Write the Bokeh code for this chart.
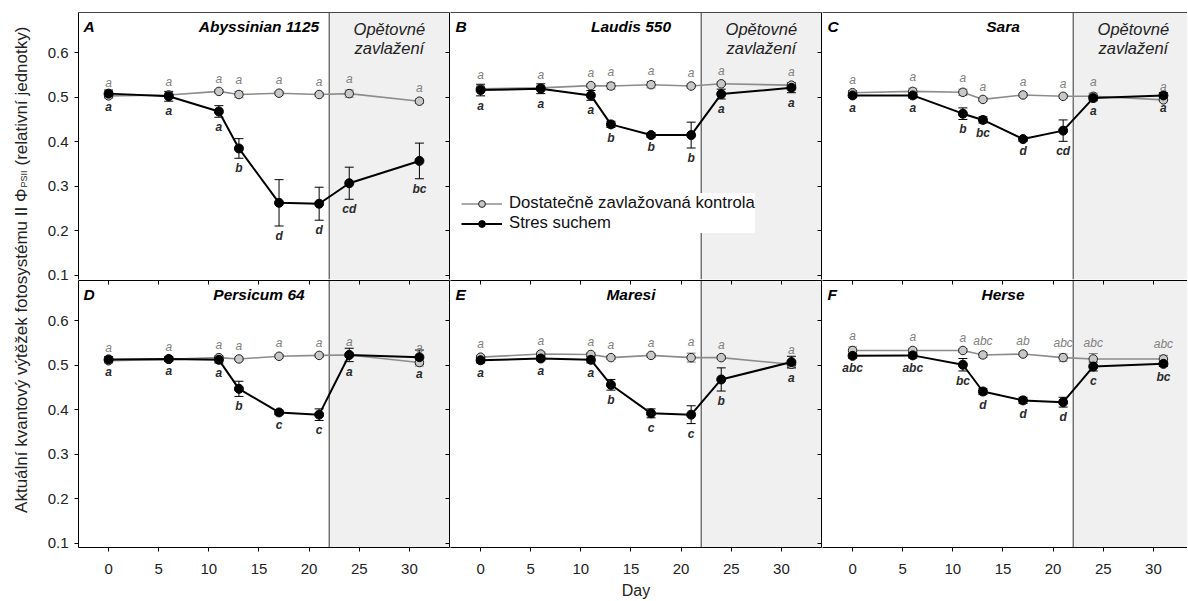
import math
from bokeh.plotting import figure
from bokeh.models import (Range1d, LinearAxis, BoxAnnotation, Span, Whisker, TeeHead,
                          ColumnDataSource, Legend, LegendItem, FixedTicker,
                          CustomJSTickFormatter)
from bokeh.layouts import row, column
from bokeh.embed import file_html
from bokeh.resources import INLINE
from bokeh.core.properties import value

# ---------------- data ----------------
days = [0, 6, 11, 13, 17, 21, 24, 31]
x_ticks = [0, 5, 10, 15, 20, 25, 30]
y_ticks = [0.1, 0.2, 0.3, 0.4, 0.5, 0.6]
rewater_day = 22

panel_letters = ["A", "B", "C", "D", "E", "F"]
cultivars = ["Abyssinian 1125", "Laudis 550", "Sara", "Persicum 64", "Maresi", "Herse"]
legend_labels = ["Dostatečně zavlažovaná kontrola", "Stres suchem"]
rewater_text = ["Opětovné", "zavlažení"]
x_label = "Day"
y_label_parts = ["Aktuální kvantový výtěžek fotosystému II Φ", "PSII", "(relativní jednotky)"]

ctrl_A = [0.503, 0.505, 0.513, 0.506, 0.509, 0.506, 0.508, 0.491]
ctrl_A_err = [0.005, 0.004, 0.004, 0.007, 0.004, 0.004, 0.008, 0.005]
drought_A = [0.508, 0.502, 0.468, 0.385, 0.263, 0.261, 0.307, 0.357]
drought_A_err = [0.008, 0.011, 0.013, 0.022, 0.052, 0.037, 0.036, 0.040]
ctrl_A_let = ["a", "a", "a", "a", "a", "a", "a", "a"]
drought_A_let = ["a", "a", "a", "b", "d", "d", "cd", "bc"]

ctrl_B = [0.519, 0.521, 0.526, 0.525, 0.528, 0.525, 0.530, 0.527]
ctrl_B_err = [0.006, 0.004, 0.004, 0.007, 0.007, 0.004, 0.004, 0.005]
drought_B = [0.516, 0.519, 0.504, 0.439, 0.415, 0.415, 0.507, 0.521]
drought_B_err = [0.013, 0.011, 0.011, 0.007, 0.005, 0.029, 0.011, 0.011]
ctrl_B_let = ["a", "a", "a", "a", "a", "a", "a", "a"]
drought_B_let = ["a", "a", "a", "b", "b", "b", "a", "a"]

ctrl_C = [0.510, 0.513, 0.511, 0.495, 0.505, 0.502, 0.502, 0.494]
ctrl_C_err = [0.005, 0.007, 0.007, 0.004, 0.004, 0.004, 0.007, 0.004]
drought_C = [0.504, 0.504, 0.463, 0.449, 0.406, 0.425, 0.498, 0.504]
drought_C_err = [0.005, 0.006, 0.013, 0.007, 0.005, 0.024, 0.006, 0.006]
ctrl_C_let = ["a", "a", "a", "a", "a", "a", "a", "a"]
drought_C_let = ["a", "a", "b", "bc", "d", "cd", "a", "a"]

ctrl_D = [0.510, 0.513, 0.517, 0.514, 0.520, 0.522, 0.523, 0.506]
ctrl_D_err = [0.005, 0.004, 0.004, 0.004, 0.004, 0.004, 0.004, 0.008]
drought_D = [0.513, 0.514, 0.512, 0.447, 0.394, 0.389, 0.523, 0.518]
drought_D_err = [0.006, 0.005, 0.007, 0.017, 0.005, 0.013, 0.015, 0.016]
ctrl_D_let = ["a", "a", "a", "a", "a", "a", "a", "a"]
drought_D_let = ["a", "a", "a", "b", "c", "c", "a", "a"]

ctrl_E = [0.518, 0.525, 0.524, 0.517, 0.522, 0.517, 0.517, 0.502]
ctrl_E_err = [0.004, 0.004, 0.004, 0.004, 0.004, 0.010, 0.004, 0.008]
drought_E = [0.511, 0.515, 0.512, 0.456, 0.392, 0.389, 0.468, 0.507]
drought_E_err = [0.006, 0.005, 0.007, 0.012, 0.010, 0.020, 0.026, 0.013]
ctrl_E_let = ["a", "a", "a", "a", "a", "a", "a", "a"]
drought_E_let = ["a", "a", "a", "b", "c", "c", "b", "a"]

ctrl_F = [0.533, 0.533, 0.533, 0.523, 0.525, 0.517, 0.514, 0.514]
ctrl_F_err = [0.008, 0.005, 0.004, 0.006, 0.004, 0.008, 0.012, 0.008]
drought_F = [0.521, 0.522, 0.501, 0.441, 0.421, 0.417, 0.497, 0.503]
drought_F_err = [0.005, 0.006, 0.014, 0.007, 0.007, 0.011, 0.010, 0.006]
ctrl_F_let = ["a", "a", "a", "abc", "ab", "abc", "abc", "abc"]
drought_F_let = ["abc", "abc", "bc", "d", "d", "d", "c", "bc"]

panels = [
    (ctrl_A, ctrl_A_err, drought_A, drought_A_err, ctrl_A_let, drought_A_let),
    (ctrl_B, ctrl_B_err, drought_B, drought_B_err, ctrl_B_let, drought_B_let),
    (ctrl_C, ctrl_C_err, drought_C, drought_C_err, ctrl_C_let, drought_C_let),
    (ctrl_D, ctrl_D_err, drought_D, drought_D_err, ctrl_D_let, drought_D_let),
    (ctrl_E, ctrl_E_err, drought_E, drought_E_err, ctrl_E_let, drought_E_let),
    (ctrl_F, ctrl_F_err, drought_F, drought_F_err, ctrl_F_let, drought_F_let),
]

# ---------------- style / layout ----------------
FONT = "Liberation Sans"
CTRL_LINE = "#8c8c8c"
CTRL_FILL = "#c8c8c8"
CTRL_TEXT = "#808080"
DRY_TEXT = "#2a2a2a"
SHADE = "#f0f0f0"
X_START = -3
X_END = 34
FRAME_W = 371
FRAME_W_CLIPPED = 365
X_END_CLIPPED = X_START + (X_END - X_START) * FRAME_W_CLIPPED / FRAME_W
Y_START = 0.091
Y_END = 0.69
FRAME_H = 267
LABEL_W = 34
TOP_BORDER = 12
TOP_ROW_SPILL = 6          # extra canvas below the top row so its last tick label is whole
BOTTOM_BORDER = 53
TOTAL_H = TOP_BORDER + FRAME_H + 1 + FRAME_H + BOTTOM_BORDER

empty_fmt = CustomJSTickFormatter(code="return ''")


def hidden_axis(ticks, tick_in=0, line_color="black"):
    return LinearAxis(ticker=FixedTicker(ticks=ticks), formatter=empty_fmt,
                      major_tick_in=tick_in, major_tick_out=0,
                      minor_tick_in=0, minor_tick_out=0,
                      major_label_text_font_size="0px", major_label_standoff=0,
                      axis_line_color=line_color, major_tick_line_color="black")


def make_panel(i):
    r, c = divmod(i, 3)
    clipped = (c == 2)
    p = figure(frame_width=FRAME_W_CLIPPED if clipped else FRAME_W, frame_height=FRAME_H,
               x_range=Range1d(X_START, X_END_CLIPPED if clipped else X_END),
               y_range=Range1d(Y_START, Y_END),
               x_axis_location=None, y_axis_location=None,
               toolbar_location=None, output_backend="svg",
               min_border_left=78 - LABEL_W if c == 0 else 0,
               min_border_right=0 if clipped else 1,
               min_border_top=TOP_BORDER if r == 0 else 1,
               min_border_bottom=TOP_ROW_SPILL if r == 0 else BOTTOM_BORDER,
               outline_line_color=None, background_fill_color="white",
               border_fill_color="white", border_fill_alpha=1 if r == 0 else 0)
    p.grid.visible = False

    # axes
    if c == 0:
        ax = LinearAxis(ticker=FixedTicker(ticks=y_ticks), major_tick_out=4, major_tick_in=0,
                        minor_tick_in=0, minor_tick_out=0, axis_line_color="black",
                        major_label_text_font=FONT, major_label_text_font_size="15px",
                        major_label_standoff=6, major_label_text_color="#222222")
        p.add_layout(ax, "left")
    if not clipped:
        p.add_layout(hidden_axis(y_ticks, tick_in=4), "right")
    if r == 0:
        p.add_layout(hidden_axis(x_ticks, tick_in=0, line_color="#444444"), "above")
    else:
        p.add_layout(hidden_axis(x_ticks, tick_in=4), "above")
        bx = LinearAxis(ticker=FixedTicker(ticks=x_ticks), major_tick_out=4, major_tick_in=0,
                        minor_tick_in=0, minor_tick_out=0, axis_line_color="black",
                        major_label_text_font=FONT, major_label_text_font_size="15px",
                        major_label_standoff=12, major_label_text_color="#222222")
        if c == 1:
            bx.axis_label = x_label
            bx.axis_label_text_font = FONT
            bx.axis_label_text_font_size = "16px"
            bx.axis_label_text_font_style = "normal"
            bx.axis_label_standoff = 5
            bx.axis_label_text_color = "#222222"
        p.add_layout(bx, "below")

    # rewatering shading
    p.add_layout(BoxAnnotation(left=rewater_day, fill_color=SHADE, fill_alpha=1,
                               line_color=None, level="underlay"))
    p.add_layout(Span(location=rewater_day, dimension="height", line_color="#333333",
                      line_width=1, level="underlay"))

    ctrl, ctrl_err, dry, dry_err, ctrl_let, dry_let = panels[i]
    csrc = ColumnDataSource(dict(
        x=days, y=ctrl,
        upper=[v + e for v, e in zip(ctrl, ctrl_err)],
        lower=[v - e for v, e in zip(ctrl, ctrl_err)],
        t=ctrl_let))
    dsrc = ColumnDataSource(dict(
        x=days, y=dry,
        upper=[v + e for v, e in zip(dry, dry_err)],
        lower=[v - e for v, e in zip(dry, dry_err)],
        t=dry_let))

    for src, col in ((csrc, "#7a7a7a"), (dsrc, "black")):
        p.add_layout(Whisker(base="x", upper="upper", lower="lower", source=src,
                             line_color=col, line_width=1, level="underlay",
                             upper_head=TeeHead(size=9, line_color=col, line_width=1),
                             lower_head=TeeHead(size=9, line_color=col, line_width=1)))

    cl = p.line("x", "y", source=csrc, line_color=CTRL_LINE, line_width=1.6)
    cs = p.scatter("x", "y", source=csrc, marker="circle", size=8.5,
                   fill_color=CTRL_FILL, line_color="#1e1e1e", line_width=1)
    dl = p.line("x", "y", source=dsrc, line_color="black", line_width=2)
    ds = p.scatter("x", "y", source=dsrc, marker="circle", size=9,
                   fill_color="black", line_color="black")

    # significance letters
    p.text(x="x", y="upper", text="t", source=csrc, text_align="center",
           text_baseline="middle", y_offset=-11, text_font=value(FONT),
           text_font_style="italic", text_font_size="12px", text_color=CTRL_TEXT)
    p.text(x="x", y="lower", text="t", source=dsrc, text_align="center",
           text_baseline="middle", y_offset=10, text_font=value(FONT),
           text_font_style="bold italic", text_font_size="12px", text_color=DRY_TEXT)

    # panel letter + cultivar name
    p.text(x=[X_START], y=[Y_END], text=[panel_letters[i]], x_offset=5, y_offset=5,
           text_align="left", text_baseline="top", text_font=value(FONT),
           text_font_style="bold italic", text_font_size="15.5px", text_color="black")
    p.text(x=[15], y=[Y_END], text=[cultivars[i]], y_offset=5,
           text_align="center", text_baseline="top", text_font=value(FONT),
           text_font_style="bold italic", text_font_size="15.5px", text_color="black")

    if r == 0:
        for k, yo in enumerate((7.5, 26.5)):
            p.text(x=[28], y=[Y_END], text=[rewater_text[k]], y_offset=yo,
                   text_align="center", text_baseline="top", text_font=value(FONT),
                   text_font_style="italic", text_font_size="16.5px", text_color="#222222")

    if i == 1:
        legend = Legend(items=[LegendItem(label=legend_labels[0], renderers=[cl, cs]),
                               LegendItem(label=legend_labels[1], renderers=[dl, ds])],
                        location=(11, 46), label_text_font=FONT, label_text_font_size="16.7px",
                        label_text_color="#111111",
                        glyph_width=41, glyph_height=17, label_height=17, spacing=0,
                        padding=8, margin=0, border_line_color=None,
                        background_fill_color="white", background_fill_alpha=1,
                        label_standoff=7)
        p.add_layout(legend)
    return p


figs = [make_panel(i) for i in range(6)]

# y-axis label in a narrow figure spanning both rows (coordinates = pixels from bottom)
lab = figure(width=LABEL_W, height=TOTAL_H, x_range=Range1d(0, LABEL_W), y_range=Range1d(0, TOTAL_H),
             x_axis_location=None, y_axis_location=None, toolbar_location=None,
             output_backend="svg", min_border=0, outline_line_color=None)
lab.grid.visible = False
split = TOTAL_H - 188
lab.text(x=[20.5], y=[split], text=[y_label_parts[0]], angle=math.pi / 2,
         text_align="right", text_baseline="middle", text_font=value(FONT),
         text_font_size="17px", text_color="#222222")
lab.text(x=[23.5], y=[split + 1], text=[y_label_parts[1]], angle=math.pi / 2,
         text_align="left", text_baseline="middle", text_font=value(FONT),
         text_font_size="9px", text_color="#222222")
lab.text(x=[20.5], y=[split + 23], text=[y_label_parts[2]], angle=math.pi / 2,
         text_align="left", text_baseline="middle", text_font=value(FONT),
         text_font_size="17px", text_color="#222222")

top_row = row(figs[0], figs[1], figs[2])
bottom_row = row(figs[3], figs[4], figs[5], margin=(-TOP_ROW_SPILL, 0, 0, 0))
layout = row(lab, column(top_row, bottom_row))

open("out.html", "w").write(file_html(layout, INLINE))
